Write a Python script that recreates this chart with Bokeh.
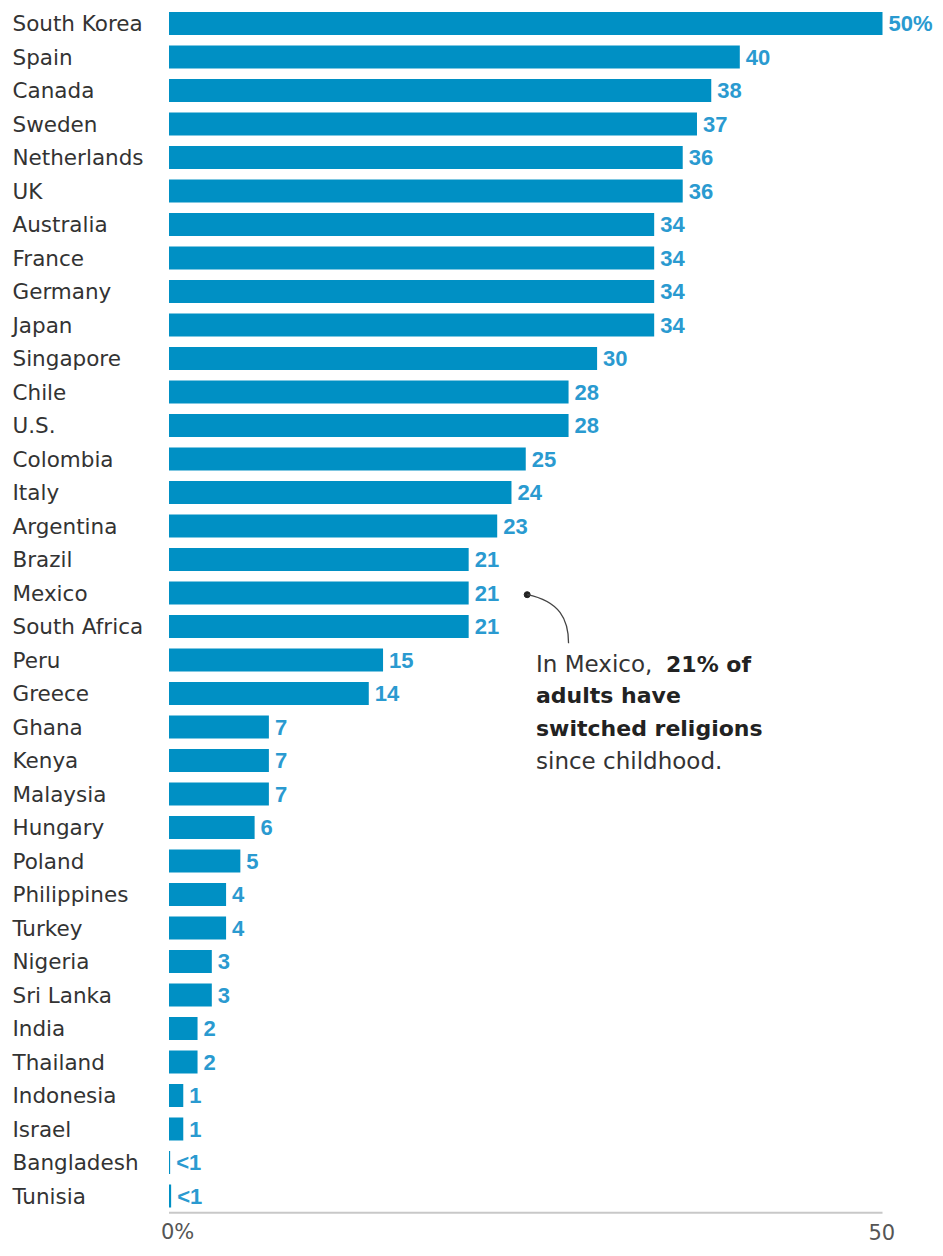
from bokeh.plotting import figure
from bokeh.models import Range1d, ColumnDataSource
from bokeh.core.properties import value
from bokeh.embed import file_html
from bokeh.resources import INLINE

countries = ["South Korea", "Spain", "Canada", "Sweden", "Netherlands", "UK",
             "Australia", "France", "Germany", "Japan", "Singapore", "Chile",
             "U.S.", "Colombia", "Italy", "Argentina", "Brazil", "Mexico",
             "South Africa", "Peru", "Greece", "Ghana", "Kenya", "Malaysia",
             "Hungary", "Poland", "Philippines", "Turkey", "Nigeria", "Sri Lanka",
             "India", "Thailand", "Indonesia", "Israel", "Bangladesh", "Tunisia"]
values = [50, 40, 38, 37, 36, 36, 34, 34, 34, 34, 30, 28, 28, 25, 24, 23, 21, 21,
          21, 15, 14, 7, 7, 7, 6, 5, 4, 4, 3, 3, 2, 2, 1, 1, 0.08, 0.15]
value_labels = ["50%", "40", "38", "37", "36", "36", "34", "34", "34", "34", "30",
                "28", "28", "25", "24", "23", "21", "21", "21", "15", "14", "7",
                "7", "7", "6", "5", "4", "4", "3", "3", "2", "2", "1", "1", "<1", "<1"]
tick_values = [0, 50]
tick_labels = ["0%", "50"]

FONT = "DejaVu Sans"
NUMFONT = "Liberation Sans"
BAR = "#0090c4"
LAB = "#2a9ad0"
TXT = "#333333"

W, H = 935, 1248
zero_px = 168.5
fifty_px = 882.0
ppu = (fifty_px - zero_px) / 50.0
x_start = -zero_px / ppu
x_end = x_start + W / ppu

row0_px = 23.0
row_px = 33.5
y_top = -row0_px / row_px
y_bot = (H - row0_px) / row_px

n = len(countries)
idx = list(range(n))

p = figure(width=W, height=H, output_backend="svg", toolbar_location=None,
           x_range=Range1d(x_start, x_end), y_range=Range1d(y_bot, y_top),
           min_border_left=0, min_border_right=0, min_border_top=0,
           min_border_bottom=0)
p.outline_line_color = None
p.grid.visible = False
p.axis.visible = False
p.background_fill_color = "white"
p.border_fill_color = "white"

src = ColumnDataSource(dict(y=idx, v=values, c=countries, lab=value_labels,
                            zero=[0] * n))
p.hbar(y="y", left=0, right="v", height=0.68, source=src, fill_color=BAR,
       line_color=None)

p.text(x="zero", y="y", text="c", source=src, x_offset=-156.5, text_align="left",
       text_baseline="middle", text_font=value(FONT), text_font_size="21.5px",
       text_color=TXT)
p.text(x="v", y="y", text="lab", source=src, x_offset=6, text_align="left",
       text_baseline="middle", text_font=value(NUMFONT), text_font_size="22px",
       text_font_style="bold", text_color=LAB)

# bottom axis line and tick labels
axis_y = n - 0.5
p.segment(x0=[tick_values[0]], x1=[tick_values[-1]], y0=[axis_y], y1=[axis_y],
          line_color="#c8c8c8", line_width=2)
p.text(x=tick_values, y=[axis_y] * len(tick_values), text=tick_labels,
       x_offset=[-8, -14], y_offset=[19, 19], text_align="left",
       text_baseline="middle", text_font=value(FONT), text_font_size="21px",
       text_color="#555555")

# annotation for Mexico
mi = countries.index("Mexico")
mv = values[mi]
dot_x = mv + 4.1
p.scatter(x=[dot_x], y=[mi + 0.05], size=6, color="#222222")
p.bezier(x0=[dot_x], y0=[mi + 0.05], x1=[mv + 7.0], y1=[mi + 1.5],
         cx0=[mv + 6.4], cy0=[mi + 0.25], cx1=[mv + 7.0], cy1=[mi + 0.8],
         line_color="#444444", line_width=1.3)

tx = mv + 4.72
p.text(x=[tx], y=[mi + 2.13], text=["In Mexico,"], text_align="left",
       text_baseline="middle", text_font=value(FONT), text_font_size="23px",
       text_color=TXT)
p.text(x=[tx], y=[mi + 2.13], x_offset=[130], text=["21% of"], text_align="left",
       text_baseline="middle", text_font=value(FONT), text_font_size="22px",
       text_font_style="bold", text_color="#222222")
p.text(x=[tx, tx], y=[mi + 3.07, mi + 4.03],
       text=["adults have", "switched religions"], text_align="left",
       text_baseline="middle", text_font=value(FONT), text_font_size="22px",
       text_font_style="bold", text_color="#222222")
p.text(x=[tx], y=[mi + 5.01], text=["since childhood."], text_align="left",
       text_baseline="middle", text_font=value(FONT), text_font_size="23px",
       text_color=TXT)

open("out.html", "w").write(file_html(p, INLINE))
